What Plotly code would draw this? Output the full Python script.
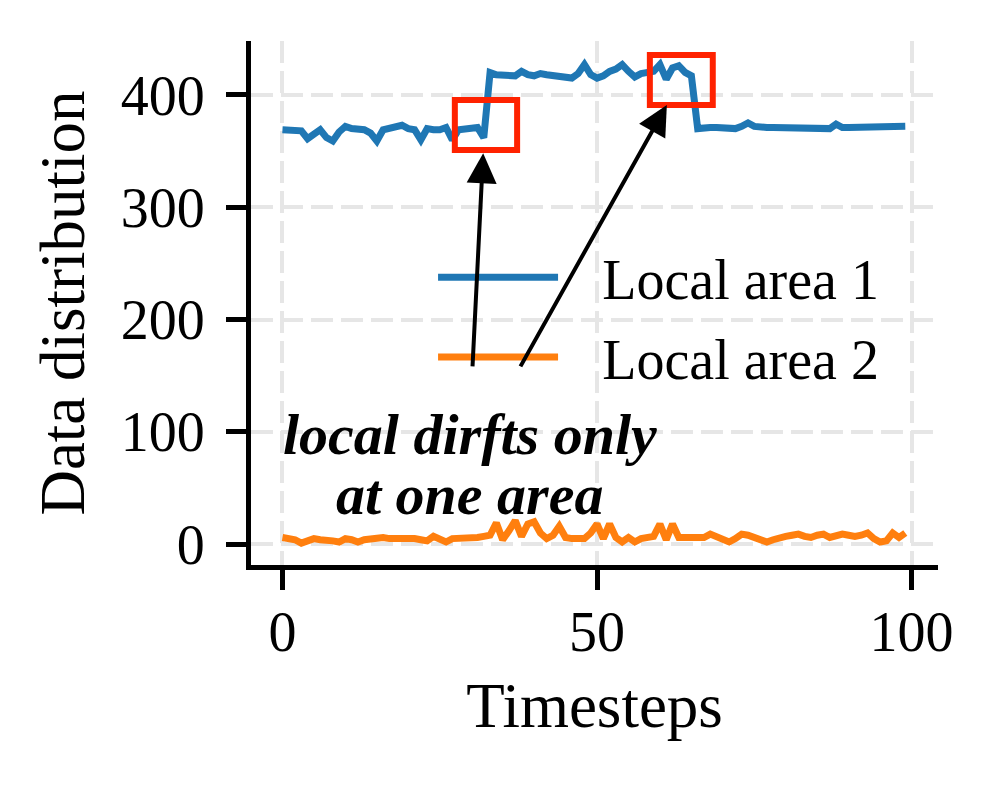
import plotly.graph_objects as go

timesteps = list(range(100))

local_area_1 = [
    369, 369, 369, 368, 361, 366, 369, 362, 359, 367,
    372, 370, 369, 369, 366, 359, 369, 370, 371, 373,
    370, 369, 360, 370, 369, 369, 371, 360, 369, 370,
    371, 371, 362, 420, 418, 418, 417, 417, 421, 418,
    417, 419, 418, 417, 416, 416, 415, 419, 427, 418,
    415, 417, 421, 423, 427, 421, 416, 419, 420, 421,
    427, 414, 424, 426, 420, 417, 370, 371, 371, 371,
    371, 371, 370, 372, 375, 372, 371, 371, 371, 371,
    371, 371, 371, 371, 371, 371, 371, 370, 374, 371,
    371, 371, 371, 371, 371, 371, 371, 371, 371, 372,
]

local_area_2 = [
    6, 5, 4, 1, 3, 5, 4, 4, 3, 2,
    5, 4, 2, 4, 5, 5, 6, 5, 5, 6,
    6, 5, 4, 3, 7, 4, 2, 5, 5, 5,
    6, 6, 7, 8, 19, 4, 12, 21, 7, 18,
    20, 10, 5, 8, 16, 6, 5, 5, 5, 10,
    18, 5, 18, 6, 2, 6, 2, 5, 6, 7,
    18, 4, 18, 6, 6, 6, 6, 6, 9, 7,
    5, 2, 5, 9, 8, 6, 4, 2, 4, 6,
    7, 8, 9, 7, 6, 8, 9, 6, 8, 9,
    8, 7, 8, 10, 5, 2, 3, 10, 6, 10,
]

series_names = ["Local area 1", "Local area 2"]
series_colors = ["#1f77b4", "#ff7f0e"]

# drift boxes: (x0, x1, y0, y1)
drift_boxes = [(27.4, 37.3, 351, 395.5), (58.4, 68.4, 391, 435.5)]
# arrows: tail (x, y) -> head (x, y)
arrow_tails = [(30.2, 157), (37.7, 157)]
arrow_heads = [(31.9, 348), (61.1, 391)]

note_lines = ["local dirfts only", "at one area"]
note_pos = [(29.8, 97.5), (29.7, 44.5)]

x_ticks = [0, 50, 100]
y_ticks = [0, 100, 200, 300, 400]

FONT = "Liberation Serif"
TICK_FS = 56
TITLE_FS = 63
NOTE_FS = 58

fig = go.Figure()
for name, values, color in zip(series_names, [local_area_1, local_area_2], series_colors):
    fig.add_trace(go.Scatter(
        x=timesteps, y=values, name="\u00a0\u00a0\u2009" + name, mode="lines",
        legendgroup=name, line=dict(color=color, width=7)
    ))

for x0, x1, y0, y1 in drift_boxes:
    fig.add_shape(type="rect", xref="x", yref="y", x0=x0, x1=x1, y0=y0, y1=y1,
                  line=dict(color="#ff2200", width=6))

for (tx, ty), (hx, hy) in zip(arrow_tails, arrow_heads):
    fig.add_annotation(
        x=hx, y=hy, ax=tx, ay=ty, xref="x", yref="y", axref="x", ayref="y",
        text="", showarrow=True, arrowhead=2, arrowsize=1.5, arrowwidth=4,
        arrowcolor="black"
    )

for line, (nx, ny) in zip(note_lines, note_pos):
    fig.add_annotation(
        x=nx, y=ny, xref="x", yref="y", text="<b><i>" + line + "</i></b>",
        showarrow=False, xanchor="center", yanchor="middle",
        font=dict(family=FONT, size=NOTE_FS, color="black")
    )

axis_style = dict(
    showline=True, linewidth=5, linecolor="black",
    ticks="outside", ticklen=20, tickwidth=5, tickcolor="black",
    showgrid=True, gridcolor="#e6e6e6", gridwidth=4, griddash="22px,8px",
    zeroline=False,
    tickfont=dict(family=FONT, size=TICK_FS, color="black"),
)

fig.update_xaxes(range=[-5, 104.2], tickvals=x_ticks, ticklabelstandoff=-6,
                 title=dict(text="Timesteps", font=dict(family=FONT, size=TITLE_FS, color="black"), standoff=22),
                 **axis_style)
fig.update_yaxes(range=[-18.5, 448], tickvals=y_ticks, ticklabelstandoff=10,
                 title=dict(text="Data distribution", font=dict(family=FONT, size=TITLE_FS, color="black"), standoff=17),
                 **axis_style)

fig.update_layout(
    width=997, height=785, autosize=False,
    margin=dict(l=251, r=59, t=41, b=220),
    plot_bgcolor="white", paper_bgcolor="white",
    showlegend=True,
    legend=dict(
        x=0.265, y=0.631, xanchor="left", yanchor="top",
        bgcolor="rgba(0,0,0,0)", itemwidth=120, tracegroupgap=4,
        font=dict(family=FONT, size=TICK_FS, color="black"),
    ),
)

fig.write_html("out.html", config={"displayModeBar": False},
               post_script="document.body.style.margin='0';")
